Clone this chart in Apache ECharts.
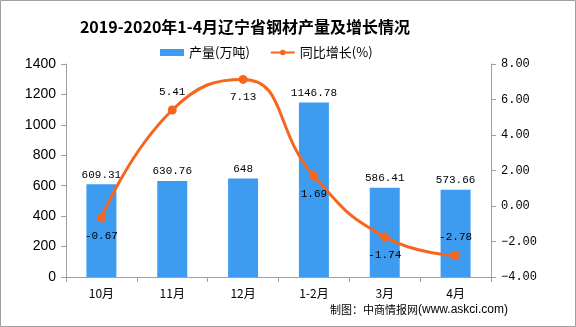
<!DOCTYPE html>
<html><head><meta charset="utf-8">
<script src="https://cdn.jsdelivr.net/npm/echarts@6/dist/echarts.min.js"></script>
<style>html,body{margin:0;padding:0;background:#fff}#c{width:576px;height:327px}</style>
</head><body><div id="c"></div>
<script>
var categories = ['10月','11月','12月','1-2月','3月','4月'];
var output = [609.31, 630.76, 648, 1146.78, 586.41, 573.66];
var growth = [-0.67, 5.41, 7.13, 1.69, -1.74, -2.78];
var growthLabelPos = ['bottom','top','bottom','bottom','bottom','top'];

var chart = echarts.init(document.getElementById('c'), null, {renderer:'canvas'});
var mono = 'Liberation Mono, DejaVu Sans Mono, monospace';
var cjk = 'Noto Sans CJK SC, sans-serif';
var axisLine = {show:true, lineStyle:{color:'#a0a0a0', width:1}};
chart.setOption({
  animation:false,
  backgroundColor:'#fff',
  title:{text:'2019-2020年1-4月辽宁省钢材产量及增长情况', left:240, textAlign:'center', top:14,
    textStyle:{fontFamily:cjk, fontSize:16, fontWeight:'bold', color:'#000'}},
  legend:{top:41, left:155, itemGap:20, itemWidth:24, itemHeight:7,
    textStyle:{fontFamily:cjk, fontSize:13, color:'#000'},
    data:[{name:'产量(万吨)', icon:'rect'},{name:'同比增长(%)'}]},
  grid:{left:66, right:85, top:64, bottom:50},
  xAxis:{type:'category', data:categories, axisLine:axisLine,
    axisTick:{show:true, alignWithLabel:false, lineStyle:{color:'#a0a0a0'}},
    axisLabel:{fontFamily:cjk, fontSize:12, color:'#000', margin:10}},
  yAxis:[
    {type:'value', min:0, max:1400, interval:200, axisLine:axisLine,
     axisTick:{show:true, lineStyle:{color:'#a0a0a0'}}, splitLine:{show:false},
     axisLabel:{fontFamily:'Liberation Sans, Arial, sans-serif', fontSize:14, color:'#000', margin:10,
       formatter:function(v){return String(v);}}},
    {type:'value', min:-4, max:8, interval:2, position:'right', axisLine:axisLine,
     axisTick:{show:true, lineStyle:{color:'#a0a0a0'}}, splitLine:{show:false},
     axisLabel:{fontFamily:mono, fontSize:12, color:'#000', margin:10,
       formatter:function(v){return v.toFixed(2).replace('-','−');}}}
  ],
  series:[
    {name:'产量(万吨)', type:'bar', data:output, barWidth:30, itemStyle:{color:'#3d9cf0'},
     label:{show:true, position:'top', fontFamily:mono, fontSize:11, color:'#000', distance:4}},
    {name:'同比增长(%)', type:'line', yAxisIndex:1, smooth:0.5, symbol:'circle', symbolSize:9,
     lineStyle:{color:'#f6661e', width:3}, itemStyle:{color:'#f6661e'},
     data:growth.map(function(v,i){return {value:v, label:{position:growthLabelPos[i]}};}),
     label:{show:true, fontFamily:mono, fontSize:11, color:'#000', distance:8}}
  ],
  graphic:[
    {type:'rect', shape:{x:0.5,y:0.5,width:575,height:326}, style:{fill:'none', stroke:'#a0a0a0', lineWidth:1}, silent:true},
    {type:'text', left:330, top:304, style:{text:'制图：中商情报网', fontFamily:cjk, fontSize:11, fill:'#000'}},
    {type:'text', left:418, top:304, style:{text:'(www.askci.com)', fontFamily:'Liberation Sans, Arial, sans-serif', fontSize:12, fill:'#000'}}
  ]
});
</script></body></html>
